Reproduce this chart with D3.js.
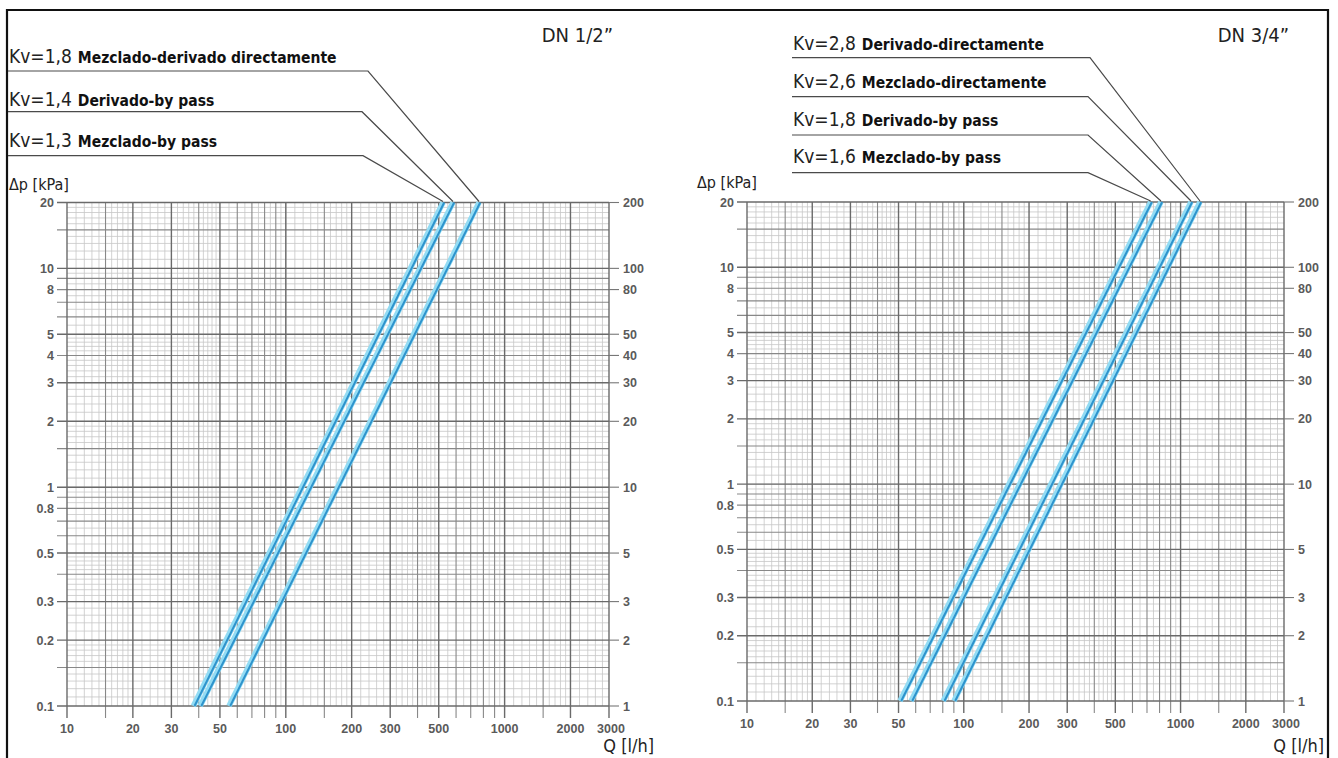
<!DOCTYPE html>
<html>
<head>
<meta charset="utf-8">
<script src="https://cdn.jsdelivr.net/npm/d3@7/dist/d3.min.js"></script>
<style>
  html, body { margin: 0; padding: 0; background: #fff; }
  svg { display: block; }
  .cond { font-family: "DejaVu Sans Condensed", "DejaVu Sans", sans-serif; font-stretch: condensed; }
  .num { font-family: "Liberation Sans", Arial, sans-serif; font-weight: bold; font-size: 12.5px; fill: #5a5a5a; }
</style>
</head>
<body>
<script>
// ---------- data ----------
const flowTicks = [10, 20, 30, 50, 100, 200, 300, 500, 1000, 2000, 3000];
const dpTicks = [20, 10, 8, 5, 4, 3, 2, 1, 0.8, 0.5, 0.3, 0.2, 0.1];
const mbarTicks = [200, 100, 80, 50, 40, 30, 20, 10, 5, 3, 2, 1];

// DN 1/2"
const titleLeft = "DN 1/2\u201D";
const kvLeft = ["Kv=1,8", "Kv=1,4", "Kv=1,3"];
const descLeft = ["Mezclado-derivado directamente", "Derivado-by pass", "Mezclado-by pass"];
const qLowLeft = [55.0, 40.6, 37.8];     // l/h at 0.1 kPa
const qHighLeft = [764, 581, 523];       // l/h at 20 kPa

// DN 3/4"
const titleRight = "DN 3/4\u201D";
const kvRight = ["Kv=2,8", "Kv=2,6", "Kv=1,8", "Kv=1,6"];
const descRight = ["Derivado-directamente", "Mezclado-directamente", "Derivado-by pass", "Mezclado-by pass"];
const qLowRight = [90.1, 80.4, 57.1, 50.8];
const qHighRight = [1229, 1117, 812, 728];

const dpLow = 0.1, dpHigh = 20;

// ---------- drawing ----------
const W = 1338, H = 758;
const svg = d3.select("body").append("svg").attr("width", W).attr("height", H);

// outer frame
svg.append("path")
  .attr("d", `M7,${H} L7,10 L1328,10 L1328,${H}`)
  .attr("fill", "none").attr("stroke", "#111").attr("stroke-width", 2.2);

function gridValues(lo, hi) {
  const major = [], medium = [], fine = [];
  for (let e = Math.floor(Math.log10(lo)); e <= Math.ceil(Math.log10(hi)); e++) {
    const d = Math.pow(10, e);
    for (let m = 1; m < 10; m += 0.1) {
      const mm = Math.round(m * 10) / 10;
      let step;
      if (mm < 2) step = 0.1; else if (mm < 5) step = 0.2; else step = 0.5;
      if (Math.abs((mm / step) - Math.round(mm / step)) > 1e-6) continue;
      const v = +(mm * d).toPrecision(6);
      if (v < lo * 0.9999 || v > hi * 1.0001) continue;
      if (mm === 1 || mm === 2 || mm === 3 || mm === 5) major.push(v);
      else if (mm === 1.5 || mm === 4 || mm === 6 || mm === 7 || mm === 8 || mm === 9) medium.push(v);
      else fine.push(v);
    }
  }
  return { major, medium, fine };
}

function panel(cfg) {
  const x = d3.scaleLog().domain([10, 3000]).range([cfg.x0, cfg.x1]);
  const y = d3.scaleLog().domain([dpLow, dpHigh]).range([cfg.y1, cfg.y0]);
  const y2 = d3.scaleLog().domain([dpLow * 10, dpHigh * 10]).range([cfg.y1, cfg.y0]);
  const g = svg.append("g");

  const gx = gridValues(10, 3000), gy = gridValues(dpLow, dpHigh);

  // fine grid
  g.append("g").selectAll("line").data(gx.fine).join("line")
    .attr("x1", d => x(d)).attr("x2", d => x(d)).attr("y1", cfg.y0).attr("y2", cfg.y1)
    .attr("stroke", "#c6c6c6").attr("stroke-width", 0.8);
  g.append("g").selectAll("line").data(gy.fine).join("line")
    .attr("y1", d => y(d)).attr("y2", d => y(d)).attr("x1", cfg.x0).attr("x2", cfg.x1)
    .attr("stroke", "#c6c6c6").attr("stroke-width", 0.8);

  // medium grid
  g.append("g").selectAll("line").data(gx.medium).join("line")
    .attr("x1", d => x(d)).attr("x2", d => x(d)).attr("y1", cfg.y0).attr("y2", cfg.y1 + 12)
    .attr("stroke", "#888").attr("stroke-width", 1.1);
  g.append("g").selectAll("line").data(gy.medium).join("line")
    .attr("y1", d => y(d)).attr("y2", d => y(d)).attr("x1", cfg.x0 - 10).attr("x2", cfg.x1)
    .attr("stroke", "#888").attr("stroke-width", 1.1);

  // major grid
  g.append("g").selectAll("line").data(gx.major).join("line")
    .attr("x1", d => x(d)).attr("x2", d => x(d)).attr("y1", cfg.y0).attr("y2", cfg.y1 + 12)
    .attr("stroke", "#6a6a6a").attr("stroke-width", 1.4);
  g.append("g").selectAll("line").data(gy.major).join("line")
    .attr("y1", d => y(d)).attr("y2", d => y(d)).attr("x1", cfg.x0 - 10).attr("x2", cfg.x1)
    .attr("stroke", "#6a6a6a").attr("stroke-width", 1.4);

  // right-side ticks (mbar)
  g.append("g").selectAll("line").data(mbarTicks).join("line")
    .attr("y1", d => y2(d)).attr("y2", d => y2(d)).attr("x1", cfg.x1).attr("x2", cfg.x1 + 10)
    .attr("stroke", "#777").attr("stroke-width", 1.1);

  // tick labels
  g.append("g").selectAll("text").data(dpTicks).join("text")
    .attr("class", "num").attr("x", cfg.x0 - 13).attr("y", d => y(d))
    .attr("dy", "0.36em").attr("text-anchor", "end").text(d => d);
  g.append("g").selectAll("text").data(mbarTicks).join("text")
    .attr("class", "num").attr("x", cfg.x1 + 14).attr("y", d => y2(d))
    .attr("dy", "0.36em").attr("text-anchor", "start").text(d => d);
  g.append("g").selectAll("text").data(flowTicks).join("text")
    .attr("class", "num").attr("x", d => x(d) + (d === 3000 ? 2 : 0)).attr("y", cfg.y1 + 22)
    .attr("dy", "0.36em").attr("text-anchor", "middle").text(d => d);

  // axis titles
  g.append("text").attr("class", "cond").attr("x", cfg.dpX).attr("y", cfg.dpY)
    .attr("font-size", 16).attr("fill", "#222").text("\u0394p [kPa]");
  g.append("text").attr("class", "cond").attr("x", cfg.qX).attr("y", 752)
    .attr("font-size", 18).attr("fill", "#222").attr("text-anchor", "end").text("Q [l/h]");
  g.append("text").attr("class", "cond").attr("x", cfg.titleX).attr("y", 42)
    .attr("font-size", 20).attr("fill", "#222").attr("text-anchor", "end").text(cfg.title);

  // curves
  const line = d3.line().x(d => x(d[0])).y(d => y(d[1]));
  const series = cfg.qLow.map((q, i) => [[q, dpLow], [cfg.qHigh[i], dpHigh]]);
  g.append("g").selectAll("path").data(series).join("path")
    .attr("d", line).attr("fill", "none").attr("stroke", "#93dcf4").attr("stroke-width", 5.5);
  g.append("g").selectAll("path").data(series).join("path")
    .attr("d", line).attr("fill", "none")
    .attr("stroke", "#2e93cc").attr("stroke-width", 2).attr("transform", "translate(1.2,0)");

  // legend with leader lines
  cfg.kv.forEach((k, i) => {
    const t = g.append("text").attr("class", "cond").attr("x", cfg.legX).attr("y", cfg.legY[i])
      .attr("font-size", 19).attr("fill", "#222").text(k);
    const w = t.node().getComputedTextLength();
    g.append("text").attr("class", "cond").attr("x", cfg.legX + w + 6).attr("y", cfg.legY[i])
      .attr("font-size", 15.5).attr("font-weight", "bold").attr("fill", "#111").text(cfg.desc[i]);
    const topX = x(cfg.qHigh[i]), topY = y(dpHigh) - 1;
    g.append("path")
      .attr("d", `M${cfg.lineX0},${cfg.lineY[i]} L${cfg.lineX1[i]},${cfg.lineY[i]} L${topX},${topY}`)
      .attr("fill", "none").attr("stroke", "#4a4a4a").attr("stroke-width", 1.2);
  });
}

panel({
  x0: 67, x1: 609, y0: 202.5, y1: 706,
  title: titleLeft, titleX: 613,
  dpX: 9, dpY: 190, qX: 654,
  kv: kvLeft, desc: descLeft, qLow: qLowLeft, qHigh: qHighLeft,
  legX: 9, legY: [63, 106, 147],
  lineX0: 8, lineX1: [368, 362, 363], lineY: [71, 111.7, 155.7]
});

panel({
  x0: 747, x1: 1284, y0: 202, y1: 701,
  title: titleRight, titleX: 1289,
  dpX: 697, dpY: 188, qX: 1324,
  kv: kvRight, desc: descRight, qLow: qLowRight, qHigh: qHighRight,
  legX: 793, legY: [50, 88, 126, 163],
  lineX0: 792, lineX1: [1090, 1088, 1088, 1088], lineY: [57.7, 96.7, 135, 172.7]
});
</script>
</body>
</html>
